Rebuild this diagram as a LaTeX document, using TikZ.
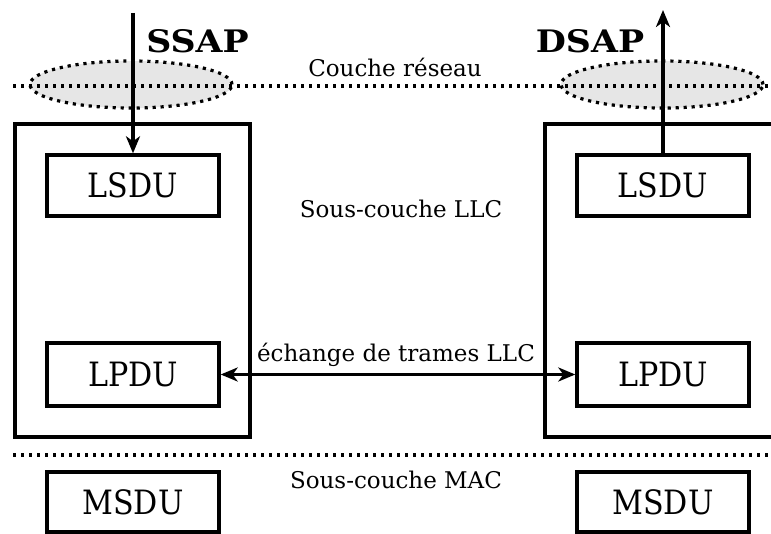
\documentclass[tikz,border=0pt]{standalone}
\usepackage{fontspec}
\setmainfont{DejaVu Serif}
\newfontfamily\labfont{DejaVu Serif}
\newfontfamily\pdufont[FakeStretch=0.9]{DejaVu Serif}
\newfontfamily\sapfont[FakeStretch=1.12]{DejaVu Serif}
\usetikzlibrary{arrows.meta,shapes.geometric}
\definecolor{ellgray}{HTML}{E6E6E6}
\tikzset{
  pdu/.style={draw, line width=3.4pt, minimum width=172pt, inner sep=0pt, font=\pdufont\fontsize{33.5}{38}\selectfont},
  outer/.style={draw, line width=3.5pt, inner sep=0pt},
  dotline/.style={line width=3.2pt, dash pattern=on 3.2pt off 4.8pt},
  sap/.style={draw, dotline, fill=ellgray, ellipse, minimum width=202pt, minimum height=47pt, inner sep=0pt},
  lab/.style={anchor=base, inner sep=0pt, font=\labfont\fontsize{23}{26}\selectfont},
  saplab/.style={anchor=base, inner sep=0pt, font=\sapfont\bfseries\fontsize{31}{34}\selectfont},
  flow/.style={line width=3.2pt, -{Stealth[length=17pt,width=14pt,inset=5pt]}},
  flow2/.style={line width=3.2pt, {Stealth[length=17pt,width=14pt,inset=5pt]}-{Stealth[length=17pt,width=14pt,inset=5pt]}}
}
\begin{document}
\begin{tikzpicture}[x=1pt,y=-1pt]
\useasboundingbox (0,0) rectangle (771,534);
\clip (0,0) rectangle (771,534);
% ellipses
\node[sap] (sapL) at (131,84.5) {};
\node[sap] (sapR) at (662,84.5) {};
% dotted lines
\coordinate (t1) at (13,86);
\coordinate (t2) at (771,86);
\draw[dotline] (t1) -- (t2);
\coordinate (b1) at (13,455);
\coordinate (b2) at (771,455);
\draw[dotline] (b1) -- (b2);
% outer boxes
\node[outer, minimum width=235pt, minimum height=313pt] (boxL) at (132.5,280.5) {};
\node[outer, minimum width=235pt, minimum height=313pt] (boxR) at (662.5,280.5) {};
% pdus
\node[pdu, minimum height=61pt] (lsduL) at (133,185.5) {LSDU};
\node[pdu, minimum height=61pt] (lsduR) at (663,185.5) {LSDU};
\node[pdu, minimum height=63pt] (lpduL) at (133,374.5) {LPDU};
\node[pdu, minimum height=63pt] (lpduR) at (663,374.5) {LPDU};
\node[pdu, minimum height=60pt] (msduL) at (133,502) {MSDU};
\node[pdu, minimum height=60pt] (msduR) at (663,502) {MSDU};
% labels
\node[saplab] (ssap) at (197.5,53) {SSAP};
\node[saplab] (dsap) at (590,53) {DSAP};
\node[lab] (reseau) at (395,77) {Couche réseau};
\node[lab] (llc) at (401,218) {Sous-couche LLC};
\node[lab] (echange) at (396,362) {échange de trames LLC};
\node[lab] (mac) at (396,488) {Sous-couche MAC};
% arrows
\coordinate (inTop) at (133,13);
\coordinate (outTop) at (663,10);
\draw[flow] (inTop) -- (lsduL.north);
\draw[flow] (lsduR.north) -- (outTop);
\draw[flow2] (lpduL.east) -- (lpduR.west);
\end{tikzpicture}
\end{document}
